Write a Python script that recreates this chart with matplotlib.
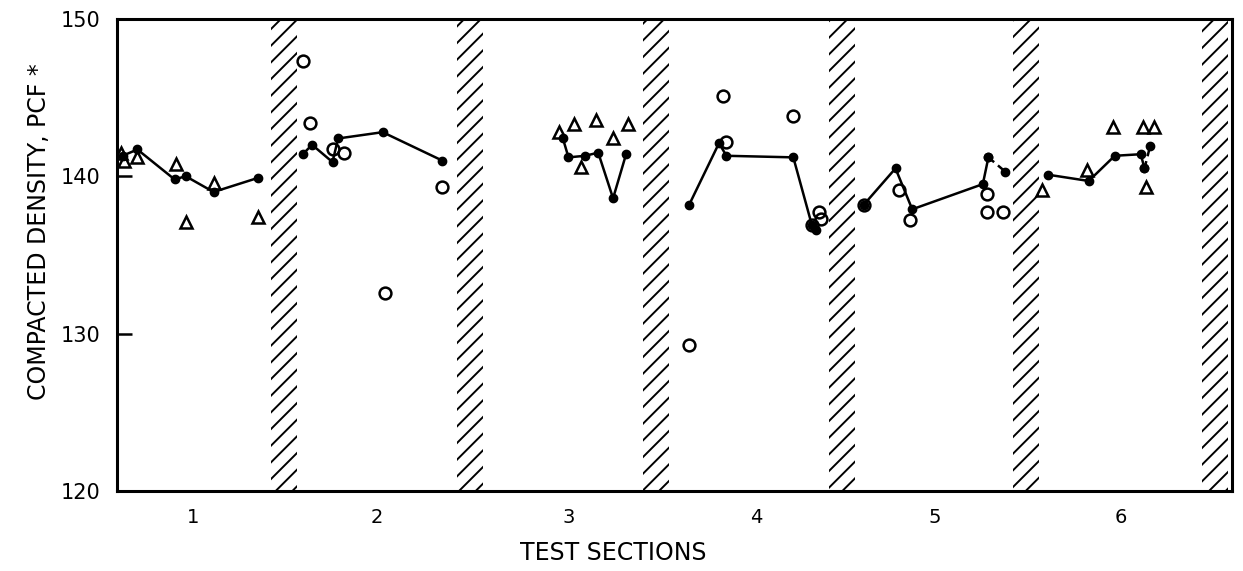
import matplotlib
matplotlib.use("Agg")
import matplotlib.pyplot as plt
from matplotlib.patches import Rectangle

plt.rcParams['font.family'] = ['DejaVu Sans']
plt.rcParams['hatch.linewidth'] = 1.4

# ---- data (x in test-section station units, y in pcf) ----
section_labels = ["1", "2", "3", "4", "5", "6"]
section_label_x = [0.41, 1.40, 2.43, 3.44, 4.40, 5.40]
band_start = [0.83, 1.83, 2.83, 3.83, 4.82, 5.84]
band_width = 0.14

# filled-dot series, connected within each section
dot_x = [
    [0.03, 0.11, 0.31, 0.37, 0.52, 0.76],
    [1.00, 1.05, 1.16, 1.19, 1.43, 1.75],
    [2.40, 2.43, 2.52, 2.59, 2.67, 2.74],
    [3.08, 3.24, 3.28, 3.64, 3.74, 3.76],
    [4.02, 4.19, 4.28, 4.66, 4.69],
    [5.01, 5.23, 5.37, 5.51, 5.53],
]
dot_y = [
    [141.3, 141.7, 139.8, 140.0, 139.0, 139.9],
    [141.4, 142.0, 140.9, 142.4, 142.8, 141.0],
    [142.4, 141.2, 141.3, 141.5, 138.6, 141.4],
    [138.2, 142.1, 141.3, 141.2, 136.9, 136.6],
    [138.2, 140.5, 137.9, 139.5, 141.2],
    [140.1, 139.7, 141.3, 141.4, 140.5],
]
# short detached segments
seg_x = [[4.69, 4.78], [5.53, 5.56]]
seg_y = [[141.2, 140.3], [140.5, 141.9]]

# open circles
circ_x = [1.00, 1.04, 1.16, 1.22, 1.75, 1.44,
          3.08, 3.26, 3.28, 3.64, 3.74, 3.78, 3.79,
          4.02, 4.21, 4.27, 4.68, 4.68, 4.77]
circ_y = [147.3, 143.4, 141.7, 141.5, 139.3, 132.6,
          129.3, 145.1, 142.2, 143.8, 136.9, 137.7, 137.3,
          138.2, 139.1, 137.2, 138.9, 137.7, 137.7]

# open triangles
tri_x = [0.02, 0.04, 0.11, 0.32, 0.37, 0.52, 0.76,
         2.38, 2.46, 2.50, 2.58, 2.67, 2.75,
         4.98, 5.22, 5.36, 5.52, 5.58, 5.54]
tri_y = [141.5, 141.0, 141.2, 140.8, 137.1, 139.6, 137.4,
         142.8, 143.3, 140.6, 143.6, 142.4, 143.3,
         139.1, 140.4, 143.1, 143.1, 143.1, 139.3]

y_ticks = [120, 130, 140, 150]

# ---- figure ----
fig = plt.figure(figsize=(12.43, 5.71), dpi=100)
ax = fig.add_axes([0.0941, 0.140, 0.8969, 0.827])
ax.set_xlim(0, 6.0)
ax.set_ylim(120, 150)

for bs in band_start:
    ax.add_patch(Rectangle((bs, 120), band_width, 30, facecolor='white',
                           edgecolor='black', linewidth=0, hatch='//', zorder=1))

for xs, ys in zip(dot_x, dot_y):
    ax.plot(xs, ys, '-', color='black', lw=1.8, marker='o', ms=6,
            mfc='black', mec='black', zorder=3)
for xs, ys in zip(seg_x, seg_y):
    ax.plot(xs, ys, '--', color='black', lw=1.8, marker='o', ms=6,
            mfc='black', mec='black', zorder=3, dashes=(3, 2))

ax.plot(circ_x, circ_y, 'o', ms=8.5, mfc='none', mec='black', mew=1.8, zorder=4)
ax.plot(tri_x, tri_y, '^', ms=9, mfc='none', mec='black', mew=1.8, zorder=4)

for s in ax.spines.values():
    s.set_linewidth(2.2)
    s.set_zorder(5)

ax.set_yticks(y_ticks)
ax.set_yticklabels([str(v) for v in y_ticks], fontsize=15)
ax.tick_params(axis='y', direction='in', length=11, width=1.8, pad=12)
ax.set_xticks(section_label_x)
ax.set_xticklabels(section_labels, fontsize=14)
ax.tick_params(axis='x', length=0, pad=12)

ax.set_ylabel("COMPACTED DENSITY, PCF *", fontsize=17)
ax.yaxis.set_label_coords(-0.059, 0.55)
ax.set_xlabel("TEST SECTIONS", fontsize=17)
ax.xaxis.set_label_coords(0.445, -0.105)

fig.savefig("out.png", dpi=100, facecolor='white')
